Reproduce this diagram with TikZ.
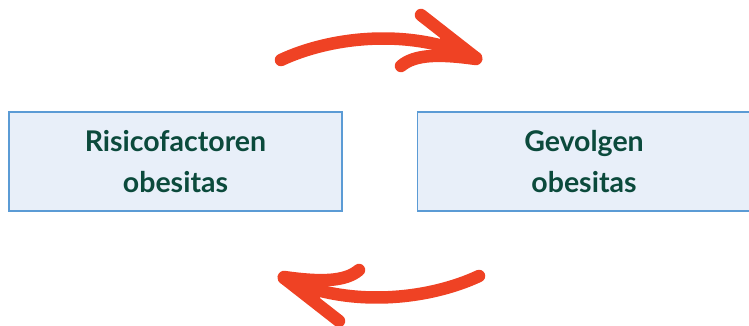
\documentclass[tikz,border=0pt]{standalone}
\usepackage{fontspec}
\setmainfont{Lato}
\definecolor{boxfill}{HTML}{E8EFF9}
\definecolor{boxline}{HTML}{5B9BD5}
\definecolor{txt}{HTML}{0B4A3C}
\definecolor{arrowred}{HTML}{EF4224}
\tikzset{
  box/.style={draw=boxline, line width=1.4pt, fill=boxfill, minimum width=333pt, minimum height=99pt, inner sep=0pt,
    text=txt, font=\fontsize{28.5}{41}\selectfont\bfseries, align=center},
  brush/.style={draw=arrowred, line width=12.5pt, line cap=round, line join=round},
  brushtip/.style={fill=arrowred}
}
\newcommand{\brusharrow}{%
  \draw[brush] (281,60) .. controls (330,37) and (410,27) .. (476,58);
  \draw[brush] (421,15) -- (476,58);
  \draw[brush] (401,66) .. controls (415,54) and (440,54) .. (476,59);
  \fill[brushtip] (440,36) -- (483,60) -- (440,62) -- cycle;
}
\begin{document}
\begin{tikzpicture}[x=1pt,y=-1pt]
  \useasboundingbox (0,0) rectangle (749,326);
  \node[box] (risk) at (175.5,161.5) {Risicofactoren\\obesitas};
  \node[box] (gevolg) at (584,161.5) {Gevolgen\\obesitas};
  \brusharrow
  \begin{scope}[rotate around={180:(380,168)}]
    \brusharrow
  \end{scope}
\end{tikzpicture}
\end{document}
